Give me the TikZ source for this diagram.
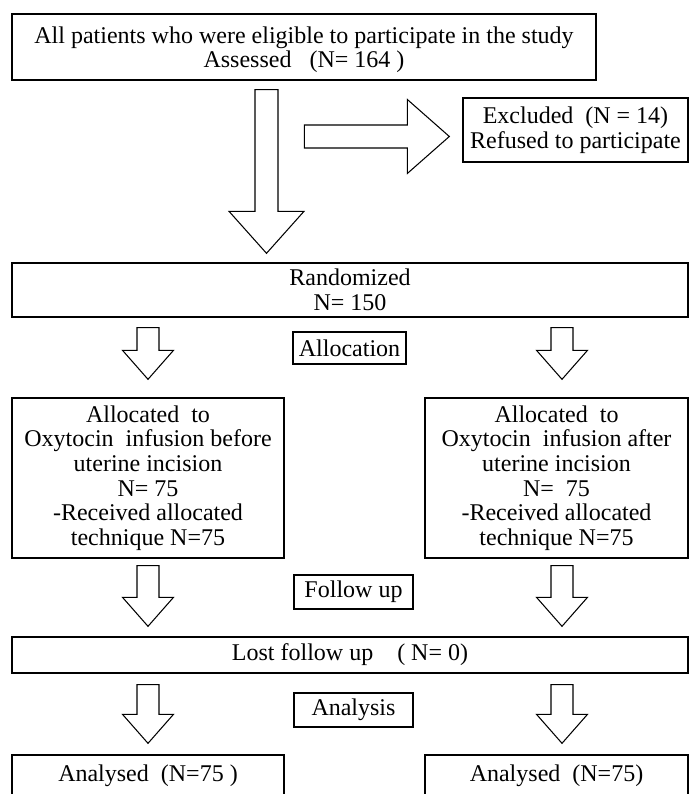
\documentclass[tikz,border=0pt]{standalone}
\usepackage{fontspec}
\setmainfont{Liberation Serif}
\usetikzlibrary{calc}
\tikzset{
  box/.style={draw, line width=1.35pt, align=center, inner sep=0pt, font=\fontsize{24}{24.6}\selectfont},
  hollow/.style={draw, line width=1.05pt, fill=white, line join=miter},
  every node/.style={font=\fontsize{24}{24.6}\selectfont}
}
% block arrows: start, tip, shaft half width, head half width, head length
\newcommand{\downblock}[5]{%
  \draw[hollow] let \p1=(#1), \p2=(#2) in
    (\x1-#3pt,\y1) -- (\x1+#3pt,\y1) -- (\x1+#3pt,\y2+#5pt) -- (\x1+#4pt,\y2+#5pt)
    -- (\x1,\y2) -- (\x1-#4pt,\y2+#5pt) -- (\x1-#3pt,\y2+#5pt) -- cycle;}
\newcommand{\rightblock}[5]{%
  \draw[hollow] let \p1=(#1), \p2=(#2) in
    (\x1,\y1+#3pt) -- (\x2-#5pt,\y1+#3pt) -- (\x2-#5pt,\y1+#4pt) -- (\x2,\y1)
    -- (\x2-#5pt,\y1-#4pt) -- (\x2-#5pt,\y1-#3pt) -- (\x1,\y1-#3pt) -- cycle;}

\begin{document}
\begin{tikzpicture}[x=1pt, y=1pt]
    \path[use as bounding box, fill=white] (0,0) rectangle (689,794);

    \node[box, text depth=0pt, minimum width=584pt, minimum height=66pt] (assess) at (304,747)
        {All patients who were eligible to participate in the study\\Assessed~~~(N=~164~)};
    \node[box, minimum width=225pt, minimum height=64pt] (excl) at (575.5,664)
        {Excluded~~(N = 14)\\Refused to participate};
    \node[box, minimum width=676pt, minimum height=54pt] (rand) at (350,504)
        {Randomized\\N= 150};
    \node[box, minimum width=113pt, minimum height=32pt] (allocn) at (349.5,446) {Allocation};
    \node[box, minimum width=272pt, minimum height=160pt] (lalloc) at (148,316)
        {Allocated~~to\\Oxytocin~~infusion before\\uterine incision\\N= 75\\-Received allocated\\technique N=75};
    \node[box, minimum width=263pt, minimum height=160pt] (ralloc) at (556.5,316)
        {Allocated~~to\\Oxytocin~~infusion after\\uterine incision\\N=~~75\\-Received allocated\\technique N=75};
    \node[box, minimum width=119pt, minimum height=34pt] (follow) at (353.5,202) {Follow up};
    \node[box, minimum width=676pt, minimum height=36pt] (lost) at (350,139)
        {Lost follow up~~~~(~N= 0)};
    \node[box, minimum width=119pt, minimum height=34pt] (anal) at (353.5,84) {Analysis};
    \node[box, minimum width=272pt, minimum height=41pt] (lres) at (148,18.5) {Analysed~~(N=75~)};
    \node[box, minimum width=263pt, minimum height=41pt] (rres) at (556.5,18.5) {Analysed~~(N=75)};

    % arrow ends
    \coordinate (bigtop) at ($(assess.south)+(-37.5,-9)$);
    \coordinate (bigtip) at ($(rand.north -| bigtop)+(0,9)$);
    \coordinate (extip) at ($(excl.west)+(-13,-6.5)$);
    \coordinate (exstart) at ($(extip)+(-145,0)$);
    \coordinate (l1s) at ($(rand.south -| lalloc.north)+(0,-10)$);
    \coordinate (l1t) at ($(lalloc.north)+(0,18)$);
    \coordinate (r1s) at ($(rand.south -| ralloc.north)+(5.5,-10)$);
    \coordinate (r1t) at ($(ralloc.north)+(5.5,18)$);
    \coordinate (l2s) at ($(lalloc.south)+(0,-7)$);
    \coordinate (l2t) at ($(lost.north -| lalloc.south)+(0,10)$);
    \coordinate (r2s) at ($(ralloc.south)+(5.5,-7)$);
    \coordinate (r2t) at ($(lost.north -| ralloc.south)+(5.5,10)$);
    \coordinate (l3s) at ($(lost.south -| lres.north)+(0,-11)$);
    \coordinate (l3t) at ($(lres.north)+(0,11)$);
    \coordinate (r3s) at ($(lost.south -| rres.north)+(5.5,-11)$);
    \coordinate (r3t) at ($(rres.north)+(5.5,11)$);

    \downblock{bigtop}{bigtip}{11.5}{37.5}{42}
    \rightblock{exstart}{extip}{11.5}{37}{42}
    \downblock{l1s}{l1t}{11}{25.5}{29}
    \downblock{r1s}{r1t}{11}{25.5}{29}
    \downblock{l2s}{l2t}{11}{25.5}{29}
    \downblock{r2s}{r2t}{11}{25.5}{29}
    \downblock{l3s}{l3t}{11}{25.5}{29}
    \downblock{r3s}{r3t}{11}{25.5}{29}
\end{tikzpicture}
\end{document}
